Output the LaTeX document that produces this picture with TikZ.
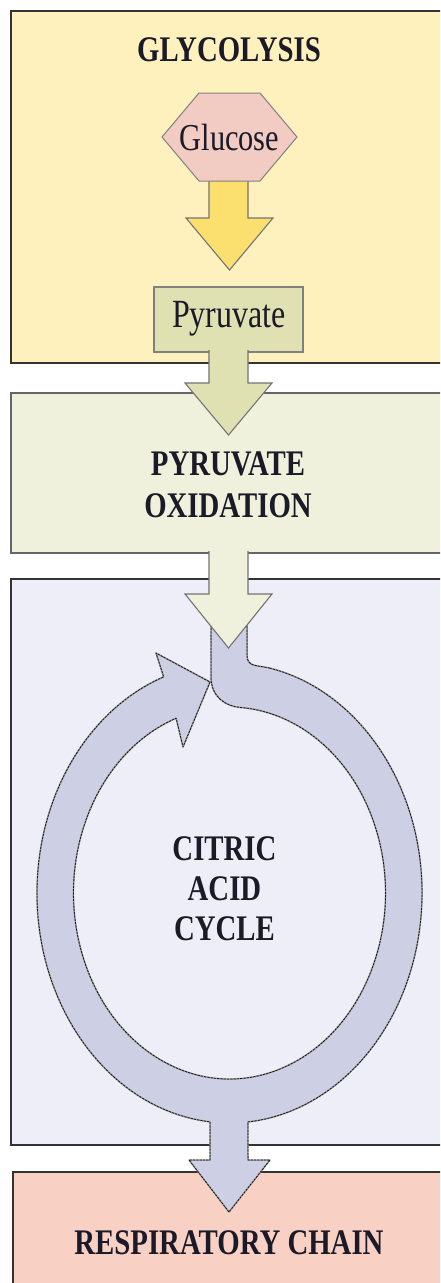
\documentclass[tikz,border=0pt]{standalone}
\usepackage{fontspec}
\setmainfont{Liberation Serif}[FakeStretch=0.8]
\usetikzlibrary{calc}

\definecolor{glyfill}{HTML}{FEF1BE}
\definecolor{glcfill}{HTML}{F2CBC2}
\definecolor{yelarrow}{HTML}{FBE06F}
\definecolor{pyrfill}{HTML}{DFE1B3}
\definecolor{oxfill}{HTML}{F0F1DC}
\definecolor{cacfill}{HTML}{EDEEF7}
\definecolor{ringfill}{HTML}{CDD0E4}
\definecolor{respfill}{HTML}{F9D0C4}
\definecolor{ink}{HTML}{1A1A28}

\begin{document}
\begin{tikzpicture}[x=1pt,y=-1pt,
  stagebox/.style={line width=2pt, draw=black!80},
  blockarrow/.style={draw=black!55, line width=1.1pt, line join=miter},
  stagelabel/.style={font=\bfseries\fontsize{36}{42}\selectfont, align=center, text=ink, inner sep=0pt},
  molecule/.style={font=\fontsize{38}{42}\selectfont, text=ink, inner sep=0pt},
  ring/.style={fill=ringfill, draw=black!40, line width=1.5pt, line join=round,
    postaction={draw=black!90, line width=0.8pt, dash pattern=on 2.2pt off 1.1pt}}]

\useasboundingbox (0,0) rectangle (440,1283);
\clip (0,0) rectangle (440,1283);
\fill[white] (0,0) rectangle (440,1283);

% stage panels
\draw[stagebox, fill=glyfill] (11,11) rectangle (452,363);
\draw[stagebox, fill=oxfill, draw=black!60] (11,393) rectangle (452,553);
\draw[stagebox, fill=cacfill] (11,579) rectangle (452,1145);
\draw[stagebox, fill=respfill] (13,1172) rectangle (452,1300);

% glucose -> pyruvate
\filldraw[blockarrow, fill=yelarrow] (209,178) -- (209,218) -- (186,218) -- (229.5,270)
  -- (273,218) -- (248,218) -- (248,178);
\filldraw[draw=black!50, line width=1pt, fill=glcfill]
  (162,137) -- (199,93) -- (260,93) -- (297,137) -- (260,181) -- (199,181) -- cycle;
\node[molecule] (glucose) at (229.5,137) {Glucose};

% pyruvate box and its arrow into pyruvate oxidation
\draw[draw=black!50, line width=1.2pt, fill=pyrfill] (154,287) rectangle (303,352);
\filldraw[blockarrow, fill=pyrfill] (209,350) -- (209,383) -- (185,383) -- (228.5,435)
  -- (272,383) -- (248,383) -- (248,350);
\node[molecule, font=\fontsize{40}{44}\selectfont] (pyruvate) at (229,319) {Pyruvate};

% stage titles
\node[stagelabel] (glyco) at (229,50) {GLYCOLYSIS};
\node[stagelabel] (pyrox) at (228,485) {PYRUVATE\\OXIDATION};
\node[stagelabel] (resp) at (229,1243) {RESPIRATORY CHAIN};

% citric acid cycle ring with outlet arrow
\coordinate (ringstart) at ({229.5+192.5*cos(-78)},{893+230*sin(-78)});
\path[ring] (ringstart)
  arc[start angle=-78, end angle=84.49, x radius=192.5, y radius=230]
  -- (248,1160) -- (270,1160) -- (229,1212) -- (189,1160) -- (210,1160)
  -- ({229.5+192.5*cos(95.81)},{893+230*sin(95.81)})
  arc[start angle=95.81, end angle=250, x radius=192.5, y radius=230]
  -- (156,653) -- (210,682) -- (183,747)
  -- ({229.5+156*cos(250)},{893+186*sin(250)})
  arc[start angle=250, end angle=-86, x radius=156, y radius=186]
  .. controls (226,706.5) and (211,697) .. (211,677)
  -- (211,600) -- (247,600) -- (247,655)
  .. controls (247,667) and (256,665) .. (ringstart) -- cycle;

% pyruvate oxidation -> citric acid cycle
\filldraw[blockarrow, fill=oxfill] (209,551) -- (209,594) -- (185,594) -- (228.5,648)
  -- (272,594) -- (248,594) -- (248,551);

\node[stagelabel, font=\bfseries\fontsize{36}{40}\selectfont] (cac) at (224.5,889) {CITRIC\\ACID\\CYCLE};
\end{tikzpicture}
\end{document}
